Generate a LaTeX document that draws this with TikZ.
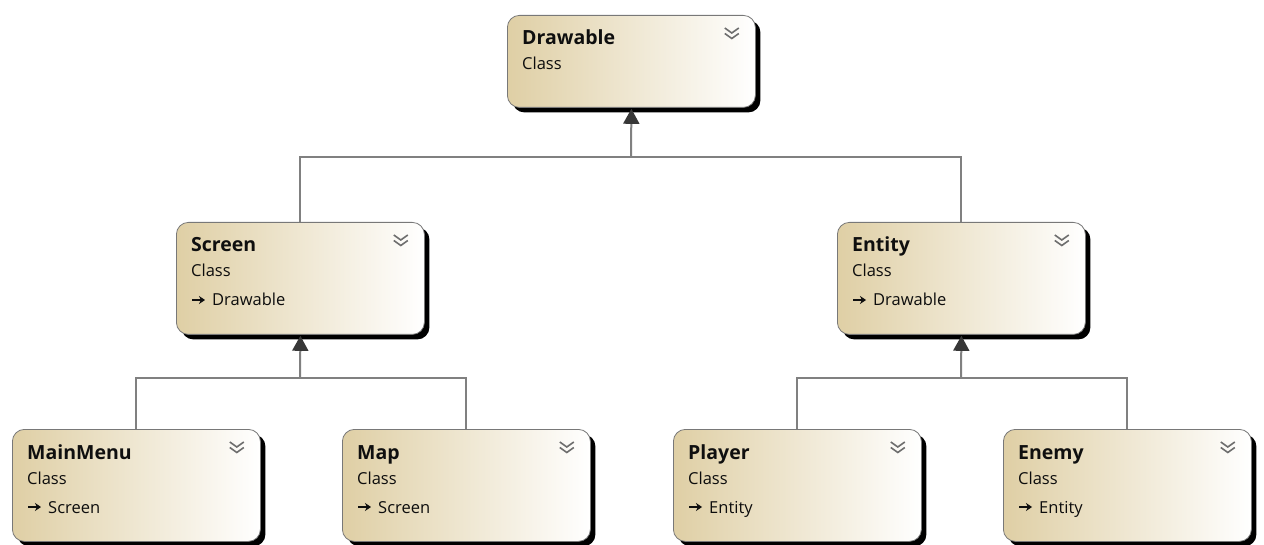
\documentclass[tikz,border=0pt]{standalone}
\usepackage{fontspec}
\setmainfont{Open Sans}
\usetikzlibrary{shadows,arrows.meta,calc}

\definecolor{boxtan}{RGB}{223,207,165}
\definecolor{boxline}{RGB}{120,120,120}
\definecolor{connline}{RGB}{128,128,128}
\definecolor{tipfill}{RGB}{55,55,55}
\definecolor{chevcol}{RGB}{110,110,110}
\definecolor{textcol}{RGB}{15,15,15}

\tikzset{
  cls/.style={rectangle, rounded corners=12pt, draw=boxline, line width=0.8pt,
    left color=boxtan, right color=white, minimum width=248pt,
    drop shadow={shadow xshift=5pt, shadow yshift=-5pt, fill=black, opacity=1},
    inner sep=0pt},
  ttl/.style={anchor=base west, inner sep=0pt, font=\fontsize{19.5}{22}\selectfont\bfseries, text=textcol},
  sub/.style={anchor=base west, inner sep=0pt, font=\fontsize{16.5}{19}\selectfont, text=textcol!85!black},
  chev/.style={draw=chevcol, line width=1.6pt},
  conn/.style={draw=connline, line width=2pt},
  inh/.style={conn, -{Triangle[width=16pt,length=15pt,fill=tipfill,color=tipfill]}},
  baseup/.style={draw=textcol, line width=1.3pt, -{Stealth[length=6pt,width=8pt]}}
}

% class box: name, left, top, height, title
\newcommand\classbox[5]{%
  \node[cls, minimum height=#4pt, anchor=north west] (#1) at (#2,#3) {};
  \node[ttl] (#1-t) at ($(#1.north west)+(15,30)$) {#5};
  \node[sub] (#1-c) at ($(#1.north west)+(15,55)$) {Class};
  \draw[chev] ($(#1.north east)+(-31,13)$) -- ++(7,5) -- ++(7,-5);
  \draw[chev] ($(#1.north east)+(-31,18.5)$) -- ++(7,5) -- ++(7,-5);
}
% base class line: name, parent
\newcommand\baseline[2]{%
  \node[sub] (#1-b) at ($(#1.north west)+(36,84)$) {#2};
  \draw[baseup] ($(#1.north west)+(16,78)$) coordinate (#1-a) -- ($(#1-a)+(13,0)$);
}

\begin{document}
\begin{tikzpicture}[x=1pt,y=-1pt]
  \useasboundingbox[fill=white] (0,0) rectangle (1264,545);

  \coordinate (jA) at (631,157);
  \coordinate (jB) at (300,378);
  \coordinate (jC) at (961,378);

  \classbox{drw}{507}{15}{92}{Drawable}
  \classbox{scr}{176}{222}{112}{Screen}
  \baseline{scr}{Drawable}
  \classbox{ent}{837}{222}{112}{Entity}
  \baseline{ent}{Drawable}
  \classbox{mm}{12}{429}{112}{MainMenu}
  \baseline{mm}{Screen}
  \classbox{map}{342}{429}{112}{Map}
  \baseline{map}{Screen}
  \classbox{ply}{673}{429}{112}{Player}
  \baseline{ply}{Entity}
  \classbox{eny}{1003}{429}{112}{Enemy}
  \baseline{eny}{Entity}

  % inheritance: Drawable
  \draw[conn] (scr.north) |- (jA) -| (ent.north);
  \draw[inh] (jA) -- ($(drw.south)+(0,1)$);
  % inheritance: Screen
  \draw[conn] (mm.north) |- (jB) -| (map.north);
  \draw[inh] (jB) -- ($(scr.south)+(0,1)$);
  % inheritance: Entity
  \draw[conn] (ply.north) |- (jC) -| (eny.north);
  \draw[inh] (jC) -- ($(ent.south)+(0,1)$);
\end{tikzpicture}
\end{document}
